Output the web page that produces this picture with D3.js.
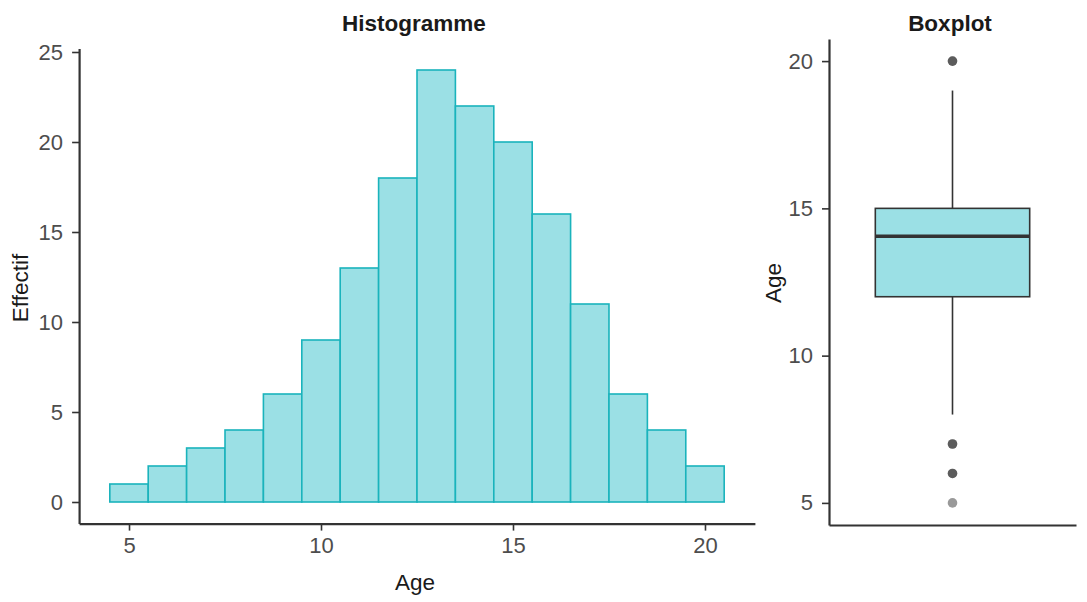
<!DOCTYPE html>
<html><head><meta charset="utf-8">
<script src="https://cdn.jsdelivr.net/npm/d3@7"></script>
<style>body{margin:0;background:#fff}svg{display:block}text{font-family:"Liberation Sans",Arial,sans-serif}</style>
</head><body>
<svg id="c" width="1087" height="602"></svg>
<script>
// Histogram data
const binCenters = [5,6,7,8,9,10,11,12,13,14,15,16,17,18,19,20];
const counts     = [1,2,3,4,6,9,13,18,24,22,20,16,11,6,4,2];
const histXTicks = [5,10,15,20];
const histYTicks = [0,5,10,15,20,25];
// Boxplot stats
const boxStats = {lower:8, q1:12, median:14.05, q3:15, upper:19};
const outliers = [20,20,7,7,6,6,5];
const boxYTicks = [5,10,15,20];

const svg = d3.select("#c");
const fill = "#9BE0E5", stroke = "#1AB3BC", axisCol = "#333", tickTxt = "#4D4D4D";
const tickFont = "22px", labFont = "22.5px";

function styleAxis(a){
  a.select(".domain").attr("stroke",axisCol).attr("stroke-width",2.2);
  a.selectAll(".tick line").attr("stroke",axisCol).attr("stroke-width",1.6);
  a.selectAll(".tick text").attr("fill",tickTxt).style("font-size",tickFont);
}

// ---- Histogram ----
const hx = d3.scaleLinear().domain([3.7,21.3]).range([79.1,754.9]);
const hy = d3.scaleLinear().domain([-1.2,25.2]).range([523.6,48.4]);
const g1 = svg.append("g");
g1.selectAll("rect").data(binCenters).join("rect")
  .attr("x", d=>hx(d-0.5)).attr("width", d=>hx(d+0.5)-hx(d-0.5))
  .attr("y", (d,i)=>hy(counts[i])).attr("height",(d,i)=>hy(0)-hy(counts[i]))
  .attr("fill",fill).attr("stroke",stroke).attr("stroke-width",1.6);

const ax1 = g1.append("g").attr("transform","translate(0,523.6)")
  .call(d3.axisBottom(hx).tickValues(histXTicks).tickSize(7).tickSizeOuter(0).tickPadding(7).tickFormat(d3.format("d")));
const ay1 = g1.append("g").attr("transform","translate(79.1,0)")
  .call(d3.axisLeft(hy).tickValues(histYTicks).tickSize(7).tickSizeOuter(0).tickPadding(9).tickFormat(d3.format("d")));
styleAxis(ax1); styleAxis(ay1);
g1.append("text").attr("x",414).attr("y",31).attr("text-anchor","middle")
  .style("font-size",labFont).style("font-weight","bold").attr("fill","#1a1a1a").text("Histogramme");
g1.append("text").attr("x",415).attr("y",590).attr("text-anchor","middle")
  .style("font-size",labFont).attr("fill","#1a1a1a").text("Age");
g1.append("text").attr("transform","translate(28,288) rotate(-90)").attr("text-anchor","middle")
  .style("font-size",labFont).attr("fill","#1a1a1a").text("Effectif");

// ---- Boxplot ----
const bx = d3.scaleLinear().domain([0.4,1.6]).range([829,1076]);
const by = d3.scaleLinear().domain([4.25,20.75]).range([525,39]);
const g2 = svg.append("g");
const cx = bx(1), hw = bx(1.375)-bx(1);
g2.append("line").attr("x1",cx).attr("x2",cx).attr("y1",by(boxStats.q3)).attr("y2",by(boxStats.upper))
  .attr("stroke","#333").attr("stroke-width",1.6);
g2.append("line").attr("x1",cx).attr("x2",cx).attr("y1",by(boxStats.q1)).attr("y2",by(boxStats.lower))
  .attr("stroke","#333").attr("stroke-width",1.6);
g2.append("rect").attr("x",cx-hw).attr("width",2*hw).attr("y",by(boxStats.q3))
  .attr("height",by(boxStats.q1)-by(boxStats.q3)).attr("fill",fill).attr("stroke","#333").attr("stroke-width",1.6);
g2.append("line").attr("x1",cx-hw).attr("x2",cx+hw).attr("y1",by(boxStats.median)).attr("y2",by(boxStats.median))
  .attr("stroke","#333").attr("stroke-width",3.5);
g2.selectAll("circle").data(outliers).join("circle")
  .attr("cx",cx).attr("cy",d=>by(d)).attr("r",4.8).attr("fill","#000").attr("fill-opacity",0.4);

const ax2 = g2.append("g").attr("transform","translate(0,525)")
  .call(d3.axisBottom(bx).tickValues([]).tickSizeOuter(0));
const ay2 = g2.append("g").attr("transform","translate(829,0)")
  .call(d3.axisLeft(by).tickValues(boxYTicks).tickSize(7).tickPadding(9).tickSizeOuter(0).tickFormat(d3.format("d")));
styleAxis(ax2); styleAxis(ay2);
g2.append("text").attr("x",950).attr("y",31).attr("text-anchor","middle")
  .style("font-size",labFont).style("font-weight","bold").attr("fill","#1a1a1a").text("Boxplot");
g2.append("text").attr("transform","translate(781,283) rotate(-90)").attr("text-anchor","middle")
  .style("font-size",labFont).attr("fill","#1a1a1a").text("Age");
</script>
</body></html>
